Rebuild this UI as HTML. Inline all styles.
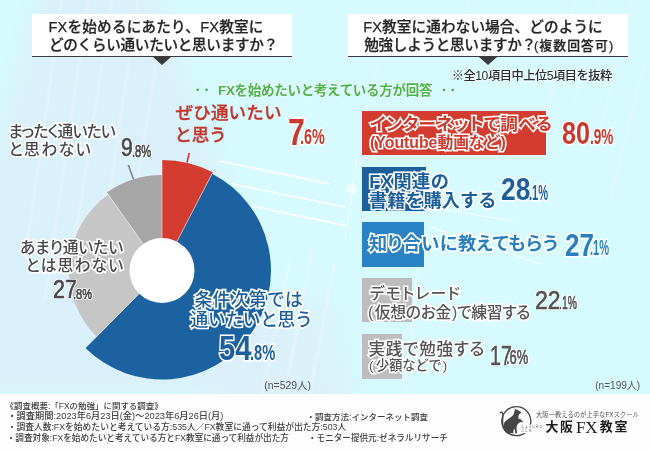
<!DOCTYPE html>
<html lang="ja">
<head>
<meta charset="utf-8">
<style>
*{margin:0;padding:0;box-sizing:border-box;}
html,body{width:650px;height:450px;overflow:hidden;}
body{position:relative;background:#d6fafd;font-family:"Liberation Sans","Noto Sans CJK JP",sans-serif;color:#3c3c3c;}
.abs{position:absolute;white-space:nowrap;}
.jp{font-family:"Liberation Sans","Noto Sans CJK JP",sans-serif;line-height:1;}
#bg{position:absolute;left:0;top:0;width:650px;height:394px;overflow:hidden;}
#foot{position:absolute;left:0;top:394px;width:650px;height:56px;background:#fdfdfd;}
.qbox{position:absolute;top:14px;height:43px;background:#fff;border-bottom:1.3px solid #3a3a3a;}
.qbox .tri{position:absolute;bottom:-9px;width:0;height:0;border-left:9.5px solid transparent;border-right:9.5px solid transparent;border-top:8px solid #3a3a3a;}
.qt{font-weight:500;color:#262626;-webkit-text-stroke:0.25px #262626;}
.gr{font-weight:700;color:#4db34d;text-shadow:0 0 2px #fff,0 0 2px #fff;}
.np{position:absolute;white-space:nowrap;font-family:"Liberation Sans",sans-serif;line-height:1;transform-origin:0 0;}
.wo{-webkit-text-stroke:3.2px #fff;paint-order:stroke fill;}
.wg{-webkit-text-stroke:0.7px currentColor;text-shadow:1.2px 0 0 #fff,-1.2px 0 0 #fff,0 1.2px 0 #fff,0 -1.2px 0 #fff,1px 1px 0 #fff,-1px -1px 0 #fff,1px -1px 0 #fff,-1px 1px 0 #fff;}
.bar{position:absolute;left:362px;}
.lr{font-weight:500;color:#c2372d;-webkit-text-stroke:0.3px #c2372d;}
.lg{font-weight:500;color:#4a4a4a;}
.lb{font-weight:500;color:#1d5f9d;}
.bt{font-size:18px;font-weight:700;}
.bg{font-size:17px;font-weight:500;color:#555;}
.ft{color:#404040;font-weight:500;}
</style>
</head>
<body>
<div id="bg">
  <svg width="650" height="394" style="position:absolute;left:0;top:0">
    <defs>
      <filter id="bl" x="-20%" y="-20%" width="140%" height="140%"><feGaussianBlur stdDeviation="10"/></filter>
      <filter id="bl2"><feGaussianBlur stdDeviation="1.2"/></filter>
    </defs>
    <polygon points="45,-20 150,-20 300,394 -40,394 -40,262" fill="#daf0fa" filter="url(#bl)"/>
    <polygon points="230,300 330,300 360,420 200,420" fill="#dcf0fa" filter="url(#bl)" opacity="0.8"/>
    <g stroke="#f0f8fd" stroke-opacity="0.55" stroke-width="2.5" fill="none" filter="url(#bl2)">
      <line x1="62" y1="0" x2="25" y2="260"/>
      <line x1="88" y1="0" x2="45" y2="300"/>
      <line x1="112" y1="0" x2="72" y2="260"/>
      <line x1="138" y1="0" x2="100" y2="260"/>
      <line x1="160" y1="40" x2="128" y2="240"/>
      <line x1="290" y1="260" x2="262" y2="394"/>
      <line x1="312" y1="250" x2="285" y2="394"/>
      <line x1="335" y1="260" x2="310" y2="394"/>
      <line x1="420" y1="250" x2="405" y2="394"/>
    </g>
    <g stroke="#ecfbfe" stroke-opacity="0.6" stroke-width="1.5" fill="none" filter="url(#bl2)">
      <line x1="575" y1="0" x2="545" y2="120"/>
      <line x1="600" y1="0" x2="572" y2="110"/>
      <line x1="632" y1="0" x2="600" y2="130"/>
      <line x1="645" y1="60" x2="610" y2="200"/>
      <line x1="470" y1="0" x2="455" y2="60"/>
      <line x1="380" y1="60" x2="365" y2="110"/>
    </g>
    <g fill="none" stroke="#fff">
      <line x1="220" y1="161" x2="330" y2="184" stroke-opacity="0.8" stroke-width="2"/>
      <line x1="232" y1="184" x2="345" y2="207" stroke-opacity="0.8" stroke-width="2"/>
      <line x1="252" y1="206" x2="347" y2="226" stroke-opacity="0.8" stroke-width="2"/>
      <line x1="358" y1="150" x2="345" y2="240" stroke-opacity="0.5" stroke-width="1.2"/>
      <line x1="420" y1="206" x2="515" y2="221" stroke-opacity="0.5" stroke-width="1.5"/>
      <line x1="428" y1="226" x2="540" y2="264" stroke-opacity="0.5" stroke-width="1.5"/>
    </g>
    <circle cx="352" cy="189" r="6" fill="#fff" fill-opacity="0.5" filter="url(#bl2)"/>
  </svg>
</div>

<!-- Question boxes -->
<div class="qbox" style="left:32px;width:260px;"><div class="tri" style="left:121px;"></div></div>
<div class="qbox" style="left:348px;width:280px;"><div class="tri" style="left:131px;"></div></div>
<div id="qL1" class="abs jp qt" style="left:48.42px;top:19.97px;font-size:14.60px;letter-spacing:0.21px">FXを始めるにあたり、FX教室に</div>
<div id="qL2" class="abs jp qt" style="left:49.00px;top:38.00px;font-size:14.60px;letter-spacing:-0.29px">どのくらい通いたいと思いますか？</div>
<div id="qR1" class="abs jp qt" style="left:363.22px;top:20.02px;font-size:14.60px;letter-spacing:0.12px">FX教室に通わない場合、どのように</div>
<div id="qR2" class="abs jp qt" style="left:364.23px;top:37.96px;font-size:14.60px;letter-spacing:-0.29px">勉強しようと思いますか？</div>
<div id="qR2b" class="abs jp qt" style="left:534.01px;top:40.17px;font-size:12.80px;letter-spacing:1.11px;font-weight:500">(複数回答可)</div>

<div id="note" class="abs jp" style="left:451.79px;top:69.50px;font-size:12.20px;letter-spacing:-0.44px;font-weight:500;color:#2c2c2c;text-shadow:0 0 3px #fff,0 0 3px #fff">※全10項目中上位5項目を抜粋</div>
<div id="green" class="abs jp gr" style="left:217.96px;top:84.39px;font-size:13.50px;letter-spacing:-0.29px">FXを始めたいと考えている方が回答</div>
<svg width="650" height="100" style="position:absolute;left:0;top:0"><g fill="#44aa44"><circle cx="197.7" cy="89.8" r="1.3"/><circle cx="206.6" cy="89.8" r="1.3"/><circle cx="443.9" cy="90" r="1.3"/><circle cx="452.7" cy="90" r="1.3"/></g></svg>

<!-- Pie -->
<svg width="650" height="450" style="position:absolute;left:0;top:0">
  <path d="M162.00,270.50 L162.00,160.00 A110.5,110.5 0 0 1 212.78,172.36 Z" fill="#d43c2f"/>
  <path d="M162.00,270.50 L212.09,173.69 A109,109 0 1 1 85.41,348.06 Z" fill="#1d62a0"/>
  <path d="M162.00,270.50 L96.65,336.67 A93,93 0 0 1 108.29,194.58 Z" fill="#c6c6c6"/>
  <path d="M162.00,270.50 L106.84,192.54 A95.5,95.5 0 0 1 162.00,175.00 Z" fill="#a6a6a6"/>
  <line x1="162" y1="270.5" x2="162.00" y2="160.00" stroke="#fff" stroke-opacity="0.55" stroke-width="0.9"/>
  <line x1="162" y1="270.5" x2="212.09" y2="173.69" stroke="#fff" stroke-opacity="0.55" stroke-width="0.9"/>
  <line x1="162" y1="270.5" x2="85.41" y2="348.06" stroke="#fff" stroke-opacity="0.55" stroke-width="0.9"/>
  <line x1="162" y1="270.5" x2="106.84" y2="192.54" stroke="#fff" stroke-opacity="0.55" stroke-width="0.9"/>
  <circle cx="162" cy="270.5" r="32.5" fill="#fff"/>
  <line x1="187" y1="162.5" x2="189.3" y2="153" stroke="#d43c2f" stroke-width="1.6"/>
  <line x1="128.3" y1="165" x2="133.6" y2="179.5" stroke="#858585" stroke-width="1.6"/>
</svg>

<!-- Pie labels -->
<div id="pr1" class="abs jp lr" style="left:175.52px;top:104.84px;font-size:17.60px;letter-spacing:0.10px">ぜひ通いたい</div>
<div id="pr2" class="abs jp lr" style="left:174.52px;top:126.76px;font-size:17.60px;letter-spacing:-0.37px">と思う</div>
<div id="N76"><div class="np wo" style="left:288.09px;top:114.61px;font-weight:700;font-size:36.18px;transform:scaleX(0.835);color:#c8392e;">7</div><div class="np wo" style="left:299.99px;top:125.62px;font-weight:700;font-size:22.54px;transform:scaleX(0.640);color:#c8392e;">.6%</div></div>
<div id="pg1" class="abs jp wo lg" style="left:8.53px;top:124.41px;font-size:15.80px;letter-spacing:-0.84px;font-feature-settings:'palt'">まったく通いたい</div>
<div id="pg2" class="abs jp wo lg" style="left:8.69px;top:141.60px;font-size:15.80px;letter-spacing:1.46px;font-feature-settings:'palt'">と思わない</div>
<div id="N98"><div class="np wg" style="left:121.45px;top:135.33px;font-weight:400;font-size:25.77px;transform:scaleX(0.818);color:#4a4a4a;">9</div><div class="np wg" style="left:132.09px;top:142.84px;font-weight:400;font-size:17.04px;transform:scaleX(0.656);color:#4a4a4a;">.8%</div></div>
<div id="pl1" class="abs jp wo lg" style="left:19.95px;top:239.52px;font-size:15.80px;letter-spacing:-0.10px;font-feature-settings:'palt'">あまり通いたい</div>
<div id="pl2" class="abs jp wo lg" style="left:25.63px;top:257.98px;font-size:15.80px;letter-spacing:1.13px;font-feature-settings:'palt'">とは思わない</div>
<div id="N278"><div class="np wg" style="left:52.93px;top:277.14px;font-weight:400;font-size:25.71px;transform:scaleX(0.836);color:#4a4a4a;">27</div><div class="np wg" style="left:73.21px;top:285.68px;font-weight:400;font-size:15.49px;transform:scaleX(0.710);color:#4a4a4a;">.8%</div></div>
<div id="pb1" class="abs jp wo lb" style="left:194.41px;top:291.85px;font-size:17.80px;letter-spacing:0.35px">条件次第では</div>
<div id="pb2" class="abs jp wo lb" style="left:190.62px;top:312.44px;font-size:17.80px;letter-spacing:-0.39px">通いたいと思う</div>
<div id="N548"><div class="np wo" style="left:219.12px;top:330.40px;font-weight:700;font-size:35.00px;transform:scaleX(0.833);color:#1d5f9d;">54</div><div class="np wo" style="left:250.47px;top:341.73px;font-weight:700;font-size:21.83px;transform:scaleX(0.674);color:#1d5f9d;">.8%</div></div>

<!-- Bars -->
<div class="bar" style="top:111px;width:184px;height:44px;background:#d43c2f;"></div>
<div id="b1a" class="abs jp wo bt" style="left:370.03px;top:115.83px;font-size:17.60px;letter-spacing:0.30px;font-feature-settings:'palt';color:#cf3b2f">インターネットで調べる</div>
<div id="b1b" class="abs jp wo bt" style="left:370.12px;top:135.33px;font-size:15.80px;letter-spacing:0.00px;color:#cf3b2f">(Youtube動画など)</div>
<div id="N809"><div class="np wo" style="left:562.04px;top:117.75px;font-weight:700;font-size:31.69px;transform:scaleX(0.795);color:#c8392e;">80</div><div class="np wo" style="left:589.85px;top:126.23px;font-weight:700;font-size:21.83px;transform:scaleX(0.624);color:#c8392e;">.9%</div></div>
<div class="bar" style="top:167px;width:63.5px;height:44.3px;background:#1d5f9d;"></div>
<div id="b2a" class="abs jp wo bt" style="left:369.30px;top:172.50px;font-size:18.20px;letter-spacing:0.45px;color:#1d5f9d">FX関連の</div>
<div id="b2b" class="abs jp wo bt" style="left:369.00px;top:192.12px;font-size:18.20px;letter-spacing:0.00px;color:#1d5f9d">書籍を購入する</div>
<div id="N281"><div class="np wo" style="left:501.01px;top:173.79px;font-weight:700;font-size:31.41px;transform:scaleX(0.840);color:#1d5f9d;">28</div><div class="np wo" style="left:529.03px;top:181.63px;font-weight:700;font-size:22.29px;transform:scaleX(0.496);color:#1d5f9d;">.1%</div></div>
<div class="bar" style="top:222.4px;width:62px;height:44.6px;background:#2a83c4;"></div>
<div id="b3" class="abs jp wo bt" style="left:368.93px;top:235.15px;font-size:18.20px;letter-spacing:0.56px;font-feature-settings:'palt';color:#2a7fc0">知り合いに教えてもらう</div>
<div id="N271"><div class="np wo" style="left:564.72px;top:228.70px;font-weight:700;font-size:32.00px;transform:scaleX(0.814);color:#2a7fc0;">27</div><div class="np wo" style="left:590.13px;top:236.73px;font-weight:700;font-size:22.29px;transform:scaleX(0.496);color:#2a7fc0;">.1%</div></div>
<div class="bar" style="top:277.8px;width:50px;height:44.5px;background:#bdbdbd;"></div>
<div id="b4a" class="abs jp wo bg" style="left:369.79px;top:285.73px;font-size:15.80px;letter-spacing:1.25px;font-feature-settings:'palt'">デモトレード</div>
<div id="b4b" class="abs jp wo bg" style="left:367.91px;top:304.57px;font-size:15.80px;letter-spacing:-0.31px;font-feature-settings:'palt'"><span style="margin-right:2px">(</span>仮想のお金<span style="margin-left:1px">)</span>で練習する</div>
<div id="N221"><div class="np wg" style="left:535.25px;top:287.21px;font-weight:400;font-size:26.57px;transform:scaleX(0.864);color:#555555;">22</div><div class="np wg" style="left:559.27px;top:293.34px;font-weight:400;font-size:19.14px;transform:scaleX(0.542);color:#555555;">.1%</div></div>
<div class="bar" style="top:334.2px;width:40.3px;height:44.4px;background:#bdbdbd;"></div>
<div id="b5a" class="abs jp wo bg" style="left:368.47px;top:340.68px;font-size:16.50px;letter-spacing:0.83px;font-feature-settings:'palt'">実践で勉強する</div>
<div id="b5b" class="abs jp wo bg" style="left:368.98px;top:359.36px;font-size:13.24px;letter-spacing:0.00px"><span style="margin-right:2.5px">(</span>少額などで<span style="margin-left:1px">)</span></div>
<div id="N176"><div class="np wg" style="left:489.63px;top:341.54px;font-weight:400;font-size:27.25px;transform:scaleX(0.719);color:#555555;">17</div><div class="np wg" style="left:506.24px;top:347.74px;font-weight:400;font-size:19.72px;transform:scaleX(0.656);color:#555555;">.6%</div></div>

<div id="n1" class="abs jp" style="left:264.24px;top:380.63px;font-size:10.46px;letter-spacing:0.00px;color:#555">(n=529人)</div>
<div id="n2" class="abs jp" style="left:595.25px;top:380.81px;font-size:10.06px;letter-spacing:0.00px;color:#555">(n=199人)</div>

<!-- Footer -->
<div id="foot"></div>
  <svg width="44" height="40" style="position:absolute;left:496px;top:404px" viewBox="0 0 44 40">
    <circle cx="20.3" cy="17.2" r="14.5" fill="none" stroke="#444" stroke-width="1.3"/>
    <rect x="24.5" y="20.6" width="16" height="8.6" fill="#fdfdfd"/>
    <path d="M11.4,29.3 C9,28.5 7.6,26 7.6,22.7 C7.6,19.5 8.5,17.6 10.5,16.2 C13,14.5 16,12.5 17.6,10.5 L18.6,6.8 L18.8,4.4 L20.2,5.8 L21.6,5.4 L22.2,6.6 C23.5,7 24.5,7.5 25.2,8.2 L24.5,9.2 C23.5,9.6 22.8,10.5 22.6,11.8 C22.5,13 22.3,14 22.2,14.6 C23.5,14.8 24.8,15.4 25.6,16.2 C26.5,16.8 26.8,17.8 26.5,18.6 C26,19 25.2,18 24.5,18 C23.5,18.5 22.8,19 22.4,19.6 C21,21 20.4,22.5 20.5,24.5 C20.6,26 20.9,27.5 21.2,29.3 Z" fill="#454545"/>
    <path d="M17.2,29.4 L17.7,25.6 L18.7,24.9 L19.3,29.4 Z" fill="#fdfdfd"/>
    <path d="M9,26 C6.6,23 6.2,18 6.8,13.5 C7.1,11 7.4,9.5 6.2,8.4 C5.4,7.8 4.5,8.2 4.3,8.9" fill="none" stroke="#454545" stroke-width="1.4" stroke-linecap="round"/>
  </svg>
  <div class="abs" style="left:521px;top:425px;font-size:3.6px;line-height:4.4px;color:#555;font-family:'Liberation Sans','Noto Sans CJK JP',sans-serif;">しょうじきな<br>こころ</div>
  <div id="tag" class="abs jp" style="left:535.99px;top:411.98px;font-size:6.33px;letter-spacing:0.00px;color:#555">大阪一教えるのが上手なFXスクール</div>
  <div class="abs" style="left:545.6px;top:421.4px;font-size:12.9px;letter-spacing:1.4px;font-weight:700;color:#1a1a1a;font-family:'Liberation Sans','Noto Sans CJK JP',sans-serif;line-height:1">大阪</div>
  <div class="abs" style="left:575.9px;top:418.7px;font-size:17px;color:#1a1a1a;font-family:'Liberation Serif',serif;line-height:1">FX</div>
  <div class="abs" style="left:599.7px;top:421.3px;font-size:12.9px;letter-spacing:2px;font-weight:700;color:#1a1a1a;font-family:'Liberation Sans','Noto Sans CJK JP',sans-serif;line-height:1">教室</div>
<div id="f1" class="abs jp ft" style="left:5.60px;top:401.76px;font-size:8.48px;letter-spacing:0.00px">《調査概要:「FXの勉強」に関する調査》</div>
<div id="f2" class="abs jp ft" style="left:7.38px;top:411.76px;font-size:9.24px;letter-spacing:0.00px">・調査期間:2023年6月23日(金)〜2023年6月26日(月)</div>
<div id="f3" class="abs jp ft" style="left:7.61px;top:423.31px;font-size:8.77px;letter-spacing:0.00px">・調査人数:FXを始めたいと考えている方:535人／FX教室に通って利益が出た方:503人</div>
<div id="f4" class="abs jp ft" style="left:6.66px;top:434.06px;font-size:8.63px;letter-spacing:0.00px">・調査対象:FXを始めたいと考えている方とFX教室に通って利益が出た方</div>
<div id="fr2" class="abs jp ft" style="left:306.61px;top:412.61px;font-size:8.50px;letter-spacing:0.00px">・調査方法:インターネット調査</div>
<div id="fr4" class="abs jp ft" style="left:307.95px;top:433.72px;font-size:8.61px;letter-spacing:0.00px">・モニター提供元:ゼネラルリサーチ</div>
</body>
</html>
